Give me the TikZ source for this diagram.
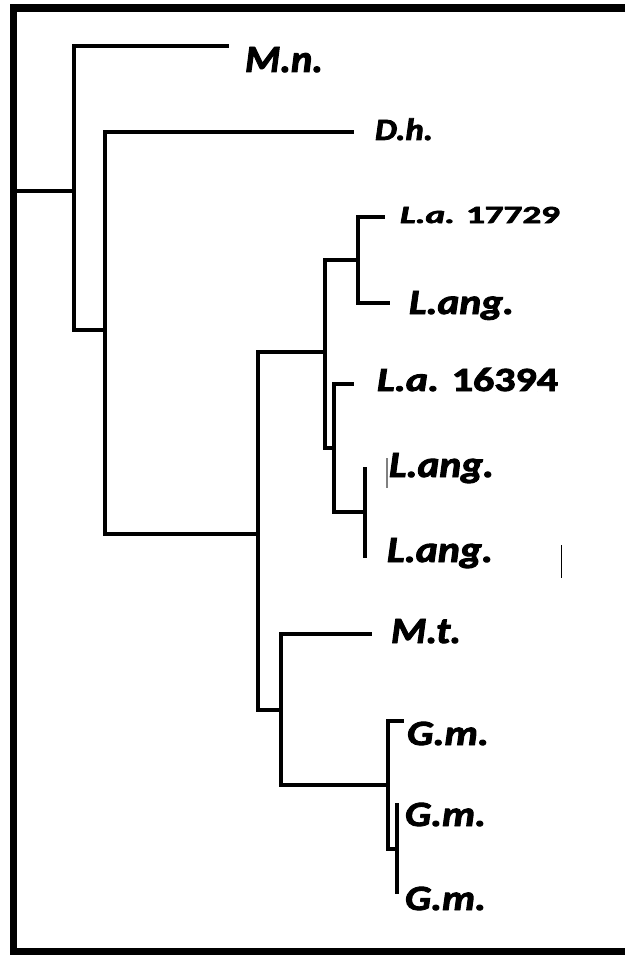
\documentclass[tikz,border=0pt]{standalone}
\usepackage{graphicx}
\usepackage{fontspec}
\setmainfont{Carlito}[BoldFeatures={FakeBold=2.5},BoldItalicFeatures={FakeBold=2.5}]
% label sized to a given width and capital height (in pt)
\newlength\capht
\newcommand{\taxon}[3]{%
  \settoheight{\capht}{\bfseries\itshape M}%
  \resizebox{#1pt}{#2pt}{\raisebox{0pt}[\capht][0pt]{\bfseries #3}}}
\begin{document}
\begin{tikzpicture}[x=1pt,y=-1pt,
    frame/.style={line width=7.5pt,line join=miter},
    branch/.style={line width=4.5pt,line join=miter},
    leaf/.style={anchor=base west,inner sep=0pt,outer sep=0pt}]
\useasboundingbox (0,0) rectangle (625,955);
\fill[white] (0,0) rectangle (625,955);

% open frame (no right side)
\draw[frame] (625,8) -- (13.5,8) -- (13.5,951.5) -- (625,951.5);

% internal nodes of the tree
\coordinate (root) at (17,191);
\coordinate (nA) at (74,191);
\coordinate (nB) at (105,330);
\coordinate (nC) at (258,534);
\coordinate (nD) at (325,352);
\coordinate (nE) at (358,260);
\coordinate (nF) at (334,448);
\coordinate (nG) at (365,512);
\coordinate (nH) at (281,710);
\coordinate (nI) at (388,785);
\coordinate (nJ) at (397,849);

% branch tips
\coordinate (tMn) at (229,46);
\coordinate (tDh) at (354,132);
\coordinate (tLa1) at (385,217);
\coordinate (tLang1) at (390,303);
\coordinate (tLa2) at (354,384);
\coordinate (tLang2) at (365,467);
\coordinate (tLang3) at (365,558);
\coordinate (tMt) at (372,634);
\coordinate (tGm1) at (404,721);
\coordinate (tGm2) at (397,803);
\coordinate (tGm3) at (397,894);

% branches
\draw[branch] (root) -- (nA);
\draw[branch] (nA) |- (tMn);
\draw[branch] (nA) |- (nB);
\draw[branch] (nB) |- (tDh);
\draw[branch] (nB) |- (nC);
\draw[branch] (nC) |- (nD);
\draw[branch] (nC) |- (nH);
\draw[branch] (nD) |- (nE);
\draw[branch] (nD) |- (nF);
\draw[branch] (nE) |- (tLa1);
\draw[branch] (nE) |- (tLang1);
\draw[branch] (nF) |- (tLa2);
\draw[branch] (nF) |- (nG);
\draw[branch] (nG) -- (tLang2);
\draw[branch] (nG) -- (tLang3);
\draw[branch] (nH) |- (tMt);
\draw[branch] (nH) |- (nI);
\draw[branch] (nI) |- (tGm1);
\draw[branch] (nI) |- (nJ);
\draw[branch] (nJ) -- (tGm2);
\draw[branch] (nJ) -- (tGm3);

% taxon labels
\node[leaf] (Mn) at (245,72) {\taxon{78}{25}{\itshape M.n.}};
\node[leaf] (Dh) at (375,140) {\taxon{58}{20}{\itshape D.h.}};
\node[leaf] (La1) at (400,223) {\taxon{160}{16}{\textit{L.a.} 17729}};
\node[leaf] (Lang1) at (409,314) {\taxon{105}{23}{\itshape L.ang.}};
\node[leaf] (La2) at (377,391) {\taxon{181}{22}{\textit{L.a.} 16394}};
\node[leaf] (Lang2) at (389,477) {\taxon{105}{24}{\itshape L.ang.}};
\node[leaf] (Lang3) at (387,562) {\taxon{106}{24}{\itshape L.ang.}};
\node[leaf] (Mt) at (391,643) {\taxon{70}{24}{\itshape M.t.}};
\node[leaf] (Gm1) at (407,745) {\taxon{82}{23}{\itshape G.m.}};
\node[leaf] (Gm2) at (405,826) {\taxon{81}{23}{\itshape G.m.}};
\node[leaf] (Gm3) at (405,910) {\taxon{81}{23}{\itshape G.m.}};

% stray marks
\draw[gray,line width=1.5pt] (387,458) -- (387,488);
\draw[black,line width=1.2pt] (561.5,545) -- (561.5,578);
\end{tikzpicture}
\end{document}
